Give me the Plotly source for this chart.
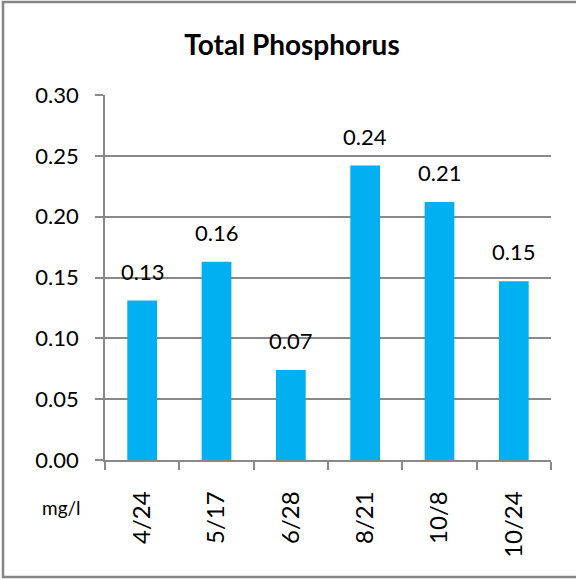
import plotly.graph_objects as go

dates = ["4/24", "5/17", "6/28", "8/21", "10/8", "10/24"]
phosphorus = [0.131, 0.163, 0.074, 0.242, 0.212, 0.147]
y_ticks = [0.00, 0.05, 0.10, 0.15, 0.20, 0.25, 0.30]

BAR_COLOR = "#00B0F0"
GRID_COLOR = "#898989"
FONT = "Lato, Noto Sans, sans-serif"

W, H = 576, 579
L, R, T, B = 105, 25, 95, 119
pw, ph = W - L - R, H - T - B


def px_to_paper(x, y):
    return (x - L) / pw, (H - B - y) / ph


fig = go.Figure(
    go.Bar(
        x=dates,
        y=phosphorus,
        marker=dict(color=BAR_COLOR, line=dict(width=0)),
        width=0.4,
        hoverinfo="x+y",
    )
)

# data labels sit well above the bars, as in the original
for d, v in zip(dates, phosphorus):
    fig.add_annotation(x=d, y=v, text=f"{v:.2f}", showarrow=False,
                       yanchor="bottom", yshift=14,
                       font=dict(size=22, color="black", family=FONT))

x0, y0 = px_to_paper(3, 2)
x1, y1 = px_to_paper(578, 577)
fig.add_shape(type="rect", xref="paper", yref="paper", x0=x0, y0=y0, x1=x1, y1=y1,
              line=dict(color="#868686", width=2.5))

mx, my = px_to_paper(40, 508)
fig.add_annotation(text="mg/l", xref="paper", yref="paper", x=mx, y=my,
                   xanchor="left", yanchor="middle",
                   showarrow=False, font=dict(size=19, color="black", family=FONT))

fig.update_layout(
    width=W,
    height=H,
    margin=dict(l=L, r=R, t=T, b=B),
    paper_bgcolor="white",
    plot_bgcolor="white",
    showlegend=False,
    title=dict(text="<b>Total Phosphorus</b>", x=292 / W, xref="container",
               xanchor="center", y=1 - 45 / H, yanchor="middle",
               font=dict(size=28, color="black", family=FONT)),
    font=dict(family=FONT, color="black"),
    xaxis=dict(
        tickangle=-90,
        tickson="boundaries",
        ticks="outside",
        ticklen=8,
        tickcolor=GRID_COLOR,
        tickwidth=1.5,
        showline=True,
        linecolor=GRID_COLOR,
        linewidth=1.5,
        tickfont=dict(size=24),
        ticklabelstandoff=20,
    ),
    yaxis=dict(
        range=[0, 0.3],
        tickvals=y_ticks,
        tickformat=".2f",
        ticks="outside",
        ticklen=8,
        tickcolor=GRID_COLOR,
        tickwidth=1.5,
        showline=True,
        linecolor=GRID_COLOR,
        linewidth=1.5,
        showgrid=True,
        gridcolor=GRID_COLOR,
        gridwidth=1.5,
        zeroline=False,
        tickfont=dict(size=22),
        ticklabelstandoff=12,
    ),
)

fig.write_html("out.html", config={"displayModeBar": False},
               post_script="document.body.style.margin='0';")
